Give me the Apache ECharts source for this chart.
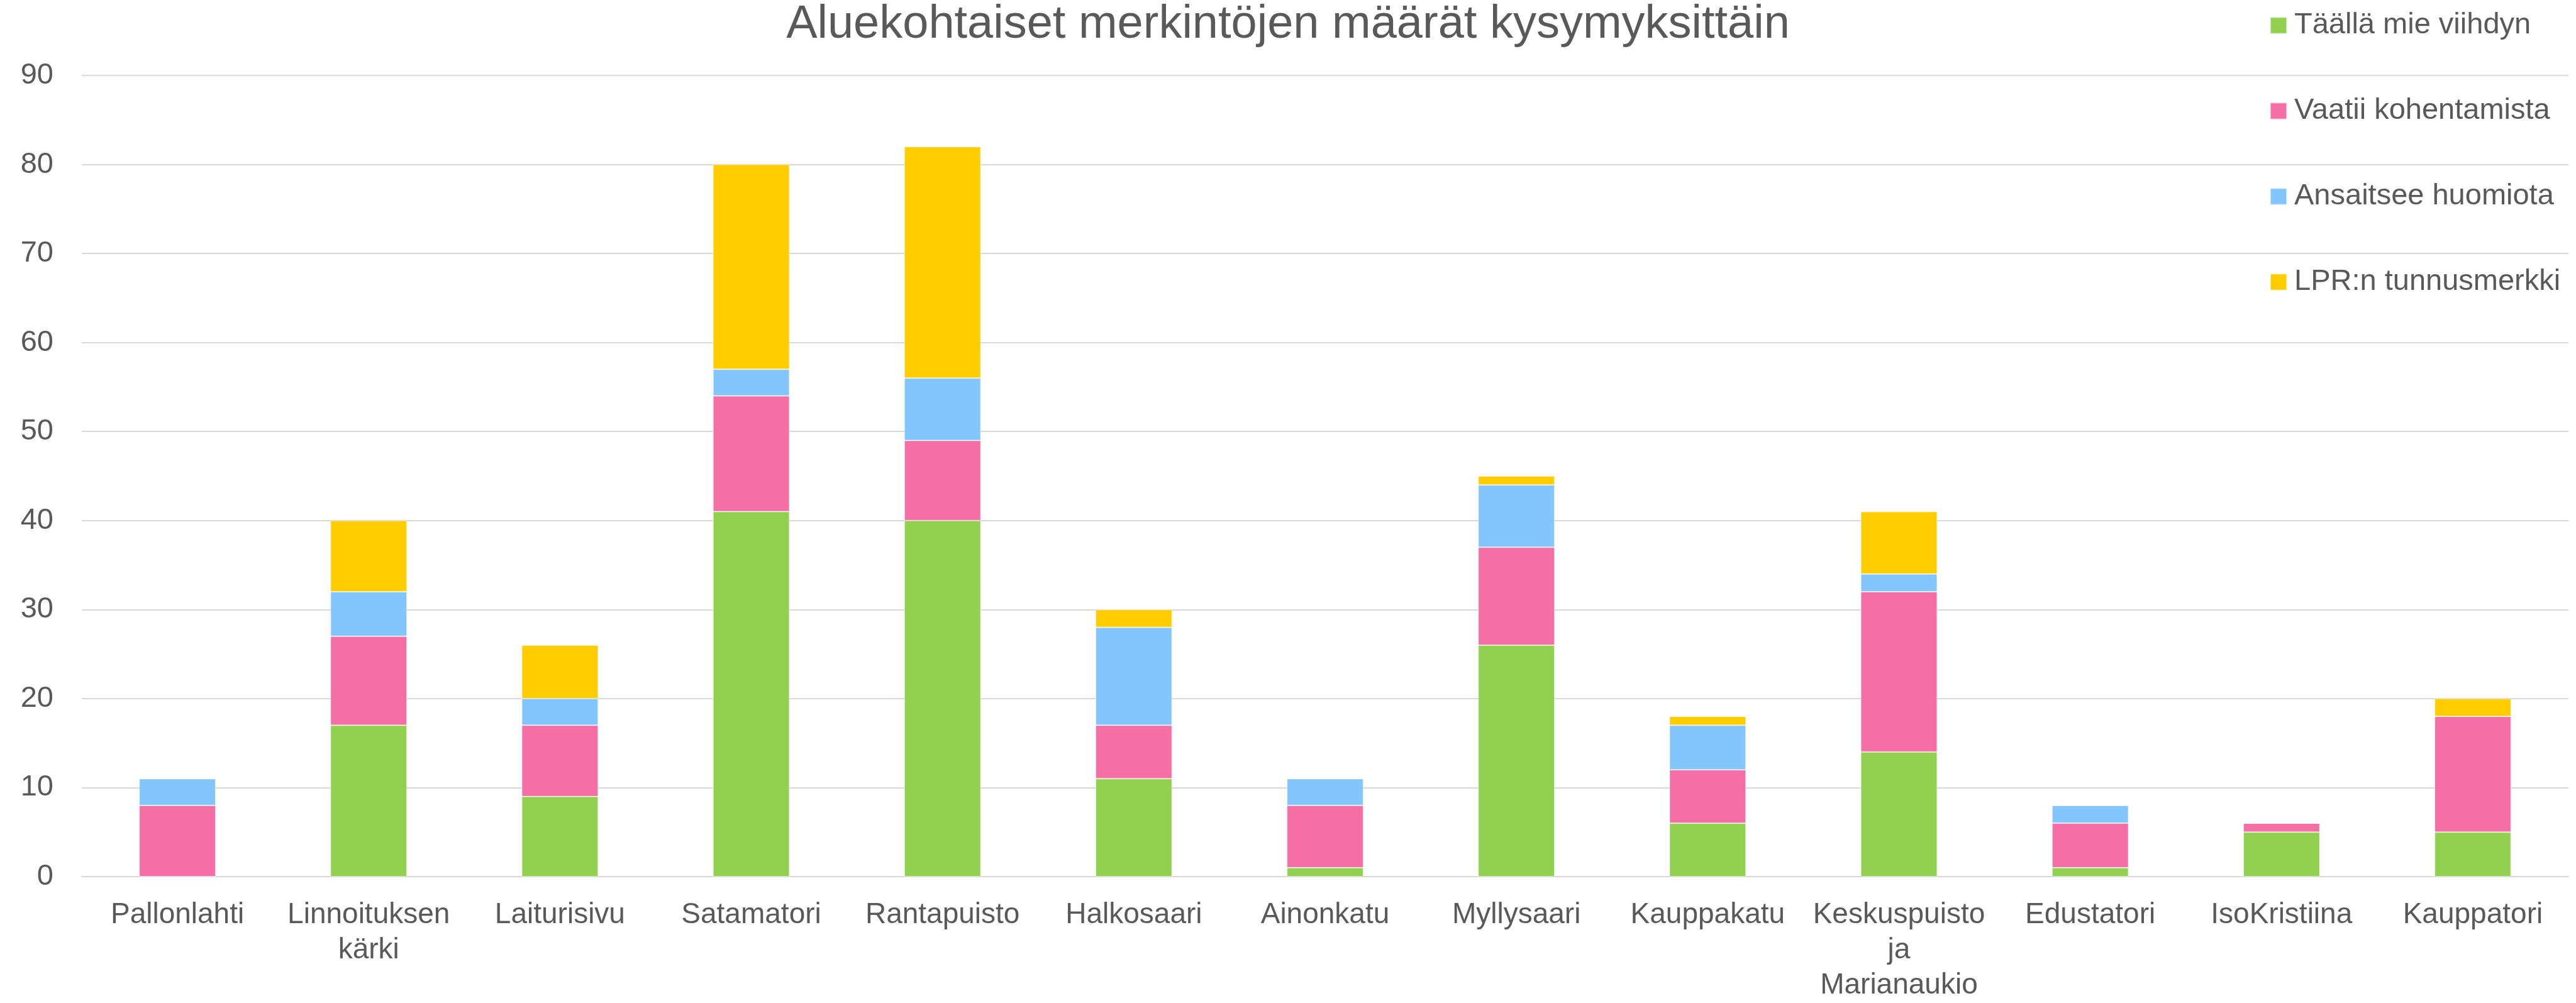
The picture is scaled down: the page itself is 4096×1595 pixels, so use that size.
<!DOCTYPE html>
<html>
<head>
<meta charset="utf-8">
<script src="https://cdn.jsdelivr.net/npm/echarts@6/dist/echarts.min.js"></script>
<style>
html,body{margin:0;padding:0;background:#fff;}
#chart{width:4096px;height:1595px;}
</style>
</head>
<body>
<div id="chart"></div>
<script>
const categories = ["Pallonlahti","Linnoituksen kärki","Laiturisivu","Satamatori","Rantapuisto","Halkosaari","Ainonkatu","Myllysaari","Kauppakatu","Keskuspuisto ja Marianaukio","Edustatori","IsoKristiina","Kauppatori"];
const seriesNames = ["Täällä mie viihdyn","Vaatii kohentamista","Ansaitsee huomiota","LPR:n tunnusmerkki"];
const viihdyn = [0,17,9,41,40,11,1,26,6,14,1,5,5];
const kohentamista = [8,10,8,13,9,6,7,11,6,18,5,1,13];
const huomiota = [3,5,3,3,7,11,3,7,5,2,2,0,0];
const tunnusmerkki = [0,8,6,23,26,2,0,1,1,7,0,0,2];
const titleText = "Aluekohtaiset merkintöjen määrät kysymyksittäin";

const colors = ["#92D050","#F56EA5","#83C6FD","#FFCC00"];
const values = [viihdyn, kohentamista, huomiota, tunnusmerkki];
const FONT = "Liberation Sans";
const TXT = "#595959";

const chart = echarts.init(document.getElementById('chart'), null, {renderer:'canvas'});
chart.setOption({
  animation:false,
  backgroundColor:'#fff',
  color:colors,
  title:{
    text:titleText, left:'center', top:3, padding:0,
    textStyle:{fontFamily:FONT, fontSize:74, fontWeight:'normal', color:TXT}
  },
  legend:{
    orient:'vertical', left:3604, top:12, itemGap:89,
    icon:'rect', itemWidth:26, itemHeight:26,
    textStyle:{fontFamily:FONT, fontSize:47, color:TXT,
      rich:{t:{fontFamily:FONT, fontSize:47, lineHeight:46, color:TXT, padding:[0,0,0,7]}}},
    formatter:(n)=>'{t|' + n + '}',
    data:seriesNames
  },
  grid:{left:130, right:12, top:120, bottom:199, containLabel:false},
  xAxis:{
    type:'category', data:categories,
    axisLine:{show:true, lineStyle:{color:'#D9D9D9', width:2}},
    axisTick:{show:false},
    axisLabel:{
      fontFamily:FONT, fontSize:46, lineHeight:56, color:TXT, margin:33, interval:0,
      formatter:(v)=>v.split(' ').join('\n')
    }
  },
  yAxis:{
    type:'value', min:0, max:90, interval:10,
    axisLine:{show:false}, axisTick:{show:false},
    splitLine:{lineStyle:{color:'#D9D9D9', width:2}},
    axisLabel:{fontFamily:FONT, fontSize:47, color:TXT, margin:45}
  },
  series: seriesNames.map((n,i)=>({
    name:n, type:'bar', stack:'total', barWidth:'40%',
    data:values[i],
    itemStyle:{color:colors[i], borderColor:'rgba(255,255,255,0.5)', borderWidth:1}
  }))
});
</script>
</body>
</html>
